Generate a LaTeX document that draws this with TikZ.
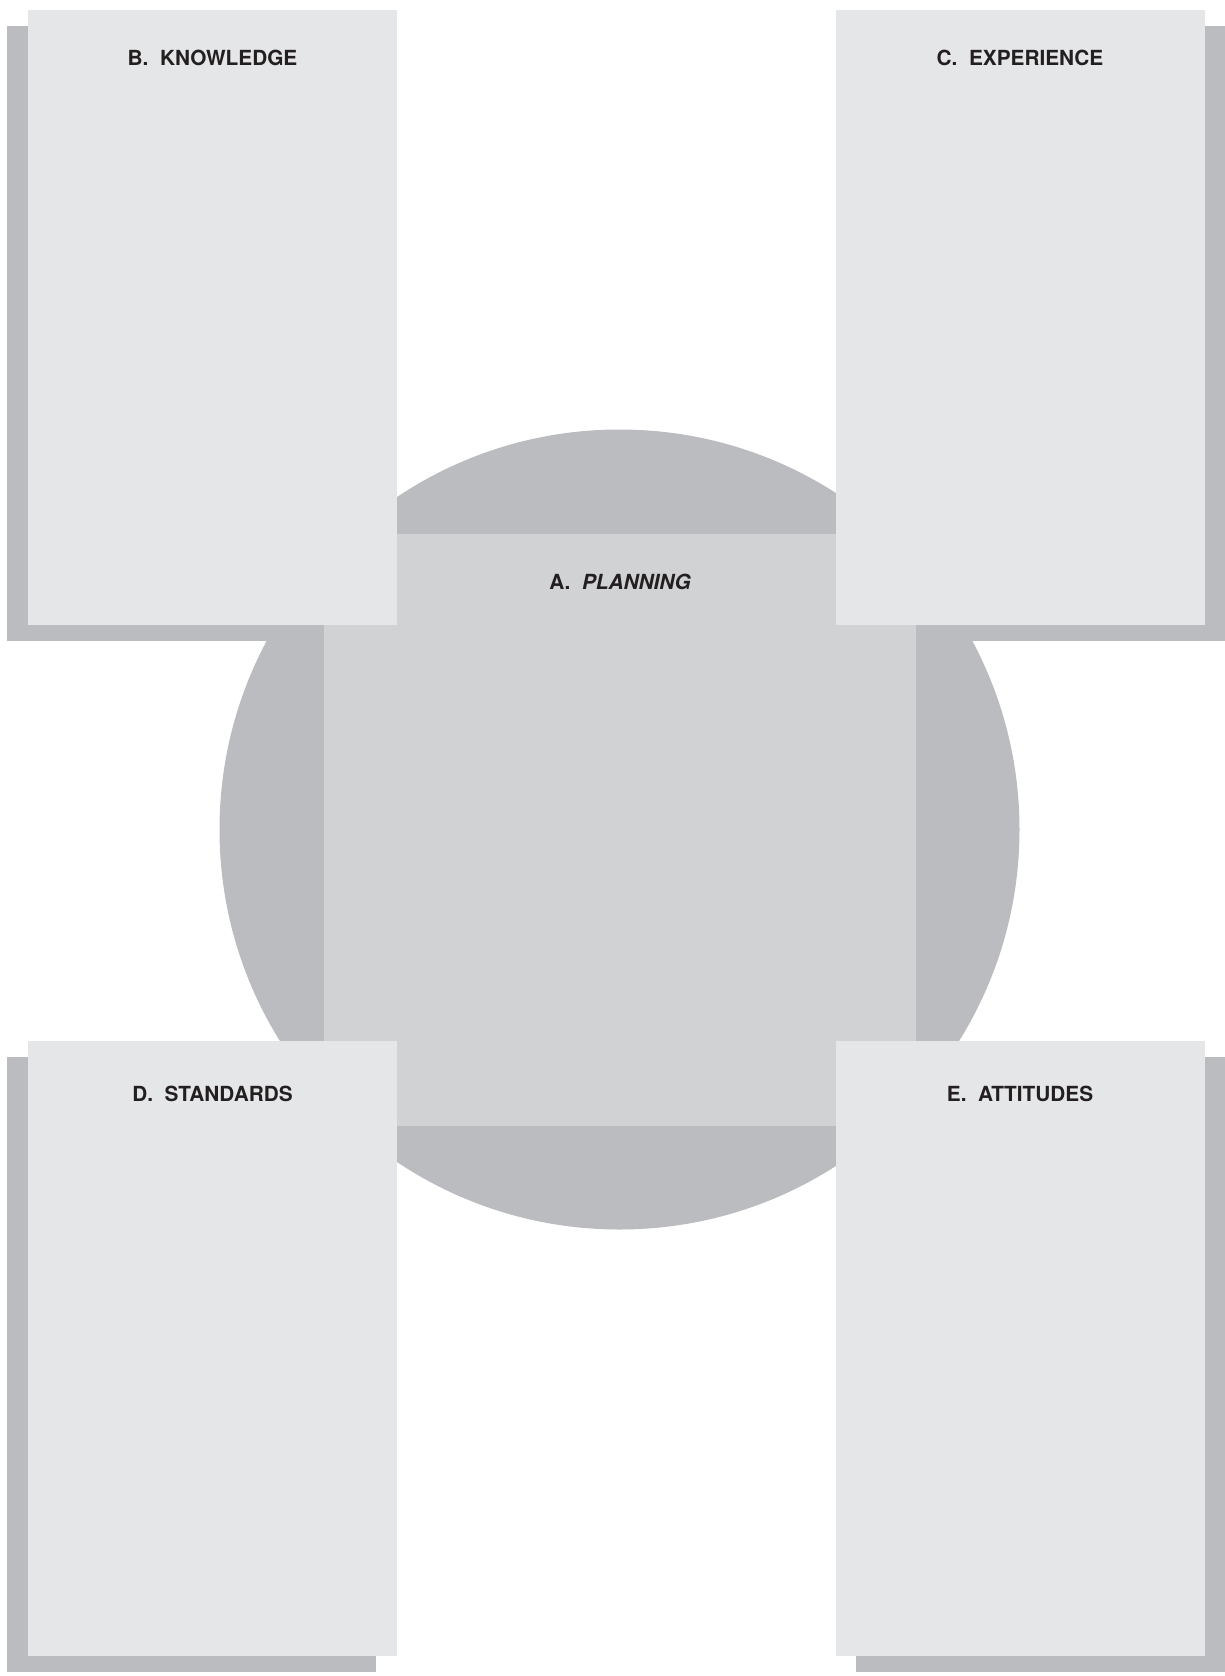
\documentclass[tikz,border=0pt]{standalone}
\usepackage{fontspec}
\setmainfont{TeX Gyre Heros}
\usepackage{tikz}
\usetikzlibrary{positioning}
\definecolor{cardgrey}{HTML}{E5E6E8}
\definecolor{planegrey}{HTML}{D1D2D4}
\definecolor{shadegrey}{HTML}{BBBCC0}
\definecolor{inkgrey}{HTML}{231F20}
\tikzset{
  card/.style={fill=cardgrey, minimum width=369pt, minimum height=615pt, inner sep=0pt},
  cardshade/.style={fill=shadegrey, minimum width=369pt, minimum height=615pt, inner sep=0pt},
  heading/.style={inner sep=0pt, text=inkgrey, font=\fontsize{20.8}{24}\selectfont\bfseries}
}

\begin{document}
\begin{tikzpicture}[x=1pt, y=-1pt]
    \useasboundingbox (0,0) rectangle (1225,1676);
    % shadows behind the four cards
    \node[cardshade] (kbshade) at (191.5,333) {};
    \node[cardshade] (exshade) at (1040,333) {};
    \node[cardshade] (stshade) at (191.5,1364.5) {};
    \node[cardshade] (atshade) at (1040,1364.5) {};
    % centre: disc and square
    \node[circle, fill=shadegrey, minimum size=800pt, inner sep=0pt] (disc) at (619.5,829.5) {};
    \node[fill=planegrey, minimum size=592pt, inner sep=0pt] (plan) at (620,829.5) {};
    \node[heading, below=41pt of plan.north] (plantag) {A.\ \ \textit{PLANNING}};
    % the four cards
    \node[card] (kb) at (212.5,317) {};
    \node[card] (ex) at (1020,317) {};
    \node[card] (st) at (212.5,1348.5) {};
    \node[card] (at) at (1020,1348.5) {};
    \node[heading, below=41pt of kb.north] (kbtag) {B.\ \ KNOWLEDGE};
    \node[heading, below=41pt of ex.north] (extag) {C.\ \ EXPERIENCE};
    \node[heading, below=45pt of st.north] (sttag) {D.\ \ STANDARDS};
    \node[heading, below=45pt of at.north] (attag) {E.\ \ ATTITUDES};
\end{tikzpicture}
\end{document}
